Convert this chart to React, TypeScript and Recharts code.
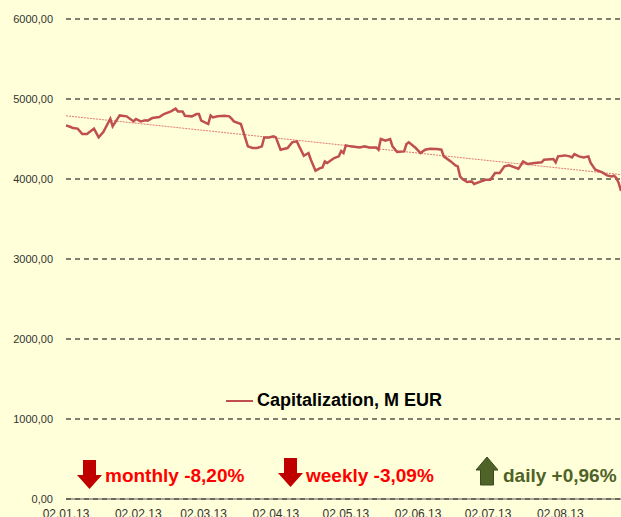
import React from 'react';
import { LineChart, Line, XAxis, YAxis, CartesianGrid, Legend, ReferenceLine } from 'recharts';

// days counted from 02.01.13
const days = [
  0, 2, 3, 5, 7, 9, 12, 14, 16, 19,
  20, 23, 26, 29, 30, 32, 34, 35, 37, 40,
  42, 45, 47, 48, 50, 51, 54, 56, 57, 58,
  61, 62, 63, 65, 68, 70, 71, 72, 75, 76,
  78, 80, 82, 84, 85, 87, 89, 90, 92, 95,
  97, 99, 100, 102, 104, 105, 107, 109, 110, 111,
  112, 115, 117, 118, 119, 120, 122, 126, 128, 130,
  133, 134, 135, 137, 139, 140, 142, 145, 146, 147,
  150, 152, 154, 156, 159, 161, 162, 165, 167, 168,
  169, 170, 172, 174, 175, 178, 180, 182, 184, 186,
  188, 190, 194, 195, 196, 198, 201, 204, 205, 209,
  210, 211, 214, 216, 217, 218, 220, 222, 224, 225,
  227, 230, 232, 234, 235, 236, 237, 238,
];

const capitalization = [
  4670, 4650, 4637, 4630, 4562, 4562, 4630, 4520, 4587, 4754,
  4658, 4795, 4783, 4720, 4750, 4720, 4733, 4729, 4762, 4775,
  4812, 4845, 4879, 4845, 4845, 4791, 4783, 4812, 4812, 4729,
  4687, 4795, 4770, 4783, 4791, 4783, 4754, 4720, 4687, 4595,
  4408, 4387, 4387, 4408, 4520, 4520, 4533, 4520, 4366, 4387,
  4458, 4470, 4408, 4291, 4325, 4241, 4104, 4137, 4145, 4220,
  4200, 4262, 4283, 4350, 4325, 4420, 4408, 4395, 4408, 4395,
  4395, 4366, 4500, 4479, 4500, 4408, 4337, 4345, 4437, 4458,
  4387, 4325, 4366, 4379, 4375, 4366, 4283, 4220, 4170, 4158,
  4033, 4000, 3962, 3970, 3937, 3970, 3991, 3991, 4075, 4075,
  4158, 4170, 4129, 4170, 4220, 4187, 4200, 4208, 4241, 4250,
  4208, 4283, 4295, 4283, 4270, 4312, 4283, 4270, 4283, 4200,
  4116, 4083, 4045, 4033, 4041, 4012, 3950, 3850,
];

const monthTicks = [0, 31, 59, 90, 120, 151, 181, 212];
const monthLabels = ['02.01.13', '02.02.13', '02.03.13', '02.04.13', '02.05.13', '02.06.13', '02.07.13', '02.08.13'];
const yTicks = [0, 1000, 2000, 3000, 4000, 5000, 6000];

// linear trend, start and end values
const trendDays = [0, 238];
const trendValues = [4790, 4055];

const seriesName = 'Capitalization, M EUR';
const changes = [
  { label: 'monthly -8,20%', up: false },
  { label: 'weekly -3,09%', up: false },
  { label: 'daily +0,96%', up: true },
];

const data = days.map((d, i) => ({ day: d, cap: capitalization[i] }));

const font = 'Arial, "Liberation Sans", sans-serif';
const bg = '#FFFFD9';

function LegendBox() {
  return (
    <div style={{ display: 'flex', alignItems: 'center', fontFamily: font, fontWeight: 'bold', fontSize: 18, color: '#000' }}>
      <svg width={28} height={4} style={{ marginRight: 3 }}>
        <line x1={0} y1={2} x2={27} y2={2} stroke="#C0504D" strokeWidth={2} />
      </svg>
      <span>{seriesName}</span>
    </div>
  );
}

function DownArrow({ x, y }: { x: number; y: number }) {
  return (
    <polygon
      points={`${x + 6},${y} ${x + 19},${y} ${x + 19},${y + 15} ${x + 25},${y + 15} ${x + 12.5},${y + 29} ${x},${y + 15} ${x + 6},${y + 15}`}
      fill="#C00000"
    />
  );
}

function UpArrow({ x, y }: { x: number; y: number }) {
  return (
    <polygon
      points={`${x + 11},${y} ${x + 22},${y + 13} ${x + 17.5},${y + 13} ${x + 17.5},${y + 28} ${x + 4.5},${y + 28} ${x + 4.5},${y + 13} ${x},${y + 13}`}
      fill="#4F6228"
      stroke="#3B4A1E"
      strokeWidth={1}
    />
  );
}

export default function App() {
  const arrowX = [77, 278, 476];
  const textX = [105, 306, 503];
  return (
    <div style={{ position: 'absolute', left: 0, top: 0, width: 621, height: 517, overflow: 'hidden', background: bg }}>
      <LineChart width={621} height={540} data={data} margin={{ top: 19, right: 0, bottom: 11, left: 0 }}>
        <CartesianGrid vertical={false} stroke="#000" strokeDasharray="5 4" />
        <XAxis
          dataKey="day"
          type="number"
          domain={[0, 238]}
          ticks={monthTicks}
          tickFormatter={(v: number) => monthLabels[monthTicks.indexOf(v)]}
          tickLine={false}
          tickMargin={4}
          height={30}
          stroke="#555"
          tick={{ fill: '#333', fontSize: 12, fontFamily: font }}
        />
        <YAxis
          domain={[0, 6000]}
          ticks={yTicks}
          width={66}
          axisLine={false}
          tickLine={false}
          tickMargin={7}
          tickFormatter={(v: number) => v.toFixed(2).replace('.', ',')}
          tick={{ fill: '#333', fontSize: 11, fontFamily: font }}
        />
        <ReferenceLine
          segment={[{ x: trendDays[0], y: trendValues[0] }, { x: trendDays[1], y: trendValues[1] }]}
          stroke="#E07A74"
          strokeWidth={1}
          strokeDasharray="2 1"
        />
        <Line
          dataKey="cap"
          name={seriesName}
          stroke="#C0504D"
          strokeWidth={2.5}
          dot={false}
          activeDot={false}
          isAnimationActive={false}
        />
        <Legend
          verticalAlign="middle"
          align="center"
          content={() => <LegendBox />}
          wrapperStyle={{ left: 226, top: 390, width: 'auto' }}
        />
      </LineChart>
      <svg width={621} height={517} style={{ position: 'absolute', left: 0, top: 0, pointerEvents: 'none' }}>
        {changes.map((c, i) => (
          <g key={c.label}>
            {c.up ? <UpArrow x={arrowX[i]} y={457} /> : <DownArrow x={arrowX[i]} y={i === 0 ? 460 : 458} />}
            <text
              x={textX[i]}
              y={482}
              fontFamily={font}
              fontWeight="bold"
              fontSize={19}
              fill={c.up ? '#4F6228' : '#FF0000'}
            >
              {c.label}
            </text>
          </g>
        ))}
      </svg>
    </div>
  );
}
